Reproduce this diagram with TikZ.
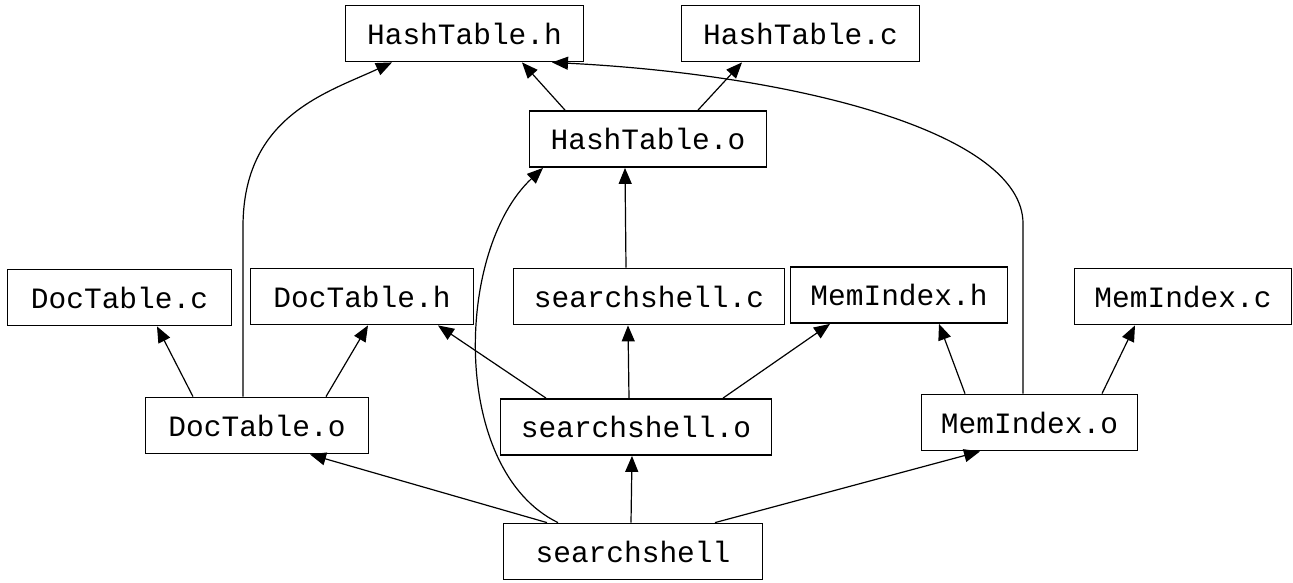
\documentclass[tikz,border=0pt]{standalone}
\usepackage{fontspec}
\setmonofont{Liberation Mono}
\usetikzlibrary{arrows.meta}

\begin{document}
\begin{tikzpicture}
[x=1pt,y=-1pt,
file/.style={rectangle,draw=black,line width=1.8pt,inner sep=0pt,
minimum height=56pt,font=\ttfamily\fontsize{29.5}{32}\selectfont},
dep/.style={-{Triangle[length=16pt,width=13pt]},line width=1.2pt}]

\useasboundingbox (0,0) rectangle (1293,582);

% top row
\node[file,minimum width=238pt] (hth) at (464.5,33.5) {HashTable.h};
\node[file,minimum width=238pt] (htc) at (800.5,33.5) {HashTable.c};
\node[file,minimum width=237pt] (hto) at (648,139) {HashTable.o};

% sources and headers
\node[file,minimum width=224pt] (dtc) at (119.5,297.5) {DocTable.c};
\node[file,minimum width=223pt] (dth) at (362,296.5) {DocTable.h};
\node[file,minimum width=271pt] (ssc) at (649,296.5) {searchshell.c};
\node[file,minimum width=217pt] (mih) at (899,295) {MemIndex.h};
\node[file,minimum width=217pt] (mic) at (1183,296.5) {MemIndex.c};

% objects
\node[file,minimum width=223pt] (dto) at (257,425.5) {DocTable.o};
\node[file,minimum width=271pt] (sso) at (636,427) {searchshell.o};
\node[file,minimum width=216pt] (mio) at (1029.5,422.5) {MemIndex.o};

% the program
\node[file,minimum width=259pt] (ss) at (633,551.5) {searchshell};

% DocTable.o
\draw[dep] ([xshift=-64pt]dto.north) -- ([xshift=37.5pt]dtc.south);
\draw[dep] ([xshift=69pt]dto.north) -- ([xshift=6pt]dth.south);
\draw[dep] ([xshift=-14pt]dto.north) -- ++(0,-170)
  .. controls +(0,-110) and (326,93) .. ([xshift=-72.5pt]hth.south);

% searchshell.o
\draw[dep] ([xshift=-90pt]sso.north) -- ([xshift=76pt]dth.south);
\draw[dep] ([xshift=-7pt]sso.north) -- ([xshift=-21pt]ssc.south);
\draw[dep] ([xshift=87pt]sso.north) -- ([xshift=-69pt]mih.south);

% searchshell
\draw[dep] ([xshift=-2pt]ss.north) -- ([xshift=-4pt]sso.south);
\draw[dep] ([xshift=-86pt]ss.north) -- ([xshift=53pt]dto.south);
\draw[dep] ([xshift=82pt]ss.north) -- ([xshift=-49.5pt]mio.south);
\draw[dep] ([xshift=-75pt]ss.north)
  .. controls (450,470) and (455,250) .. ([xshift=-105pt]hto.south);

% HashTable.o
\draw[dep] ([xshift=-23pt]ssc.north) -- ([xshift=-23pt]hto.south);
\draw[dep] ([xshift=-83pt]hto.north) -- ([xshift=57.5pt]hth.south);
\draw[dep] ([xshift=50pt]hto.north) -- ([xshift=-58.5pt]htc.south);

% MemIndex.o
\draw[dep] ([xshift=-64.5pt]mio.north) -- ([xshift=40pt]mih.south);
\draw[dep] ([xshift=72.5pt]mio.north) -- ([xshift=-48pt]mic.south);
\draw[dep] ([xshift=-6.5pt]mio.north) -- ++(0,-170)
  .. controls +(0,-90) and (800,75) .. ([xshift=87.5pt]hth.south);

\end{tikzpicture}
\end{document}
